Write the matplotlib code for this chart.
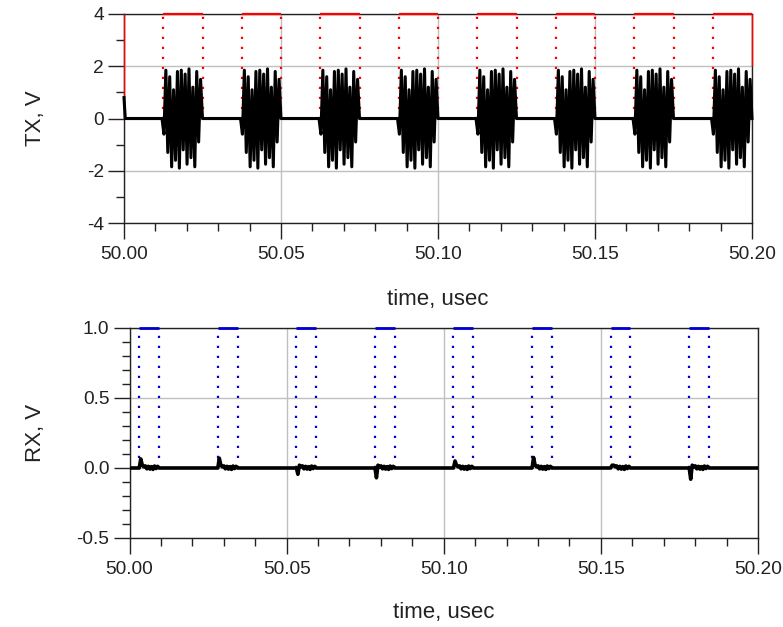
import numpy as np
import matplotlib.pyplot as plt
from matplotlib.ticker import MultipleLocator, FormatStrFormatter

plt.rcParams['font.family'] = ['Liberation Sans', 'DejaVu Sans']

# TX (top): red gate and black bursts, times in usec
red_rise = [50.0125, 50.0375, 50.0625, 50.0875, 50.1125, 50.1375, 50.1625, 50.1875]
red_fall = [50.025, 50.05, 50.075, 50.10, 50.125, 50.15, 50.175]
red_high_end = [50.025, 50.05, 50.075, 50.10, 50.125, 50.15, 50.175, 50.20]
red_edge_x = [50.00, 50.20]
red_edge_lo = [0.0, 2.0]
red_high = 4.0

burst_start = [50.0121, 50.0371, 50.0621, 50.0871, 50.1121, 50.1371, 50.1621, 50.1871]
burst_len = 0.0129
tx_burst = [0.0, -0.6, 1.85, -1.3, 1.6, -1.85, 1.1, -1.6, 1.8, -1.9, 1.85, -1.2,
            1.7, -1.75, 1.9, -1.5, 1.2, -1.85, 1.8, -0.9, 1.5, 0.0]
tx_start_x = [50.0, 50.0004]
tx_start_y = [0.8, 0.0]

# RX (bottom): blue gate and black response
blue_rise = [50.0031, 50.0281, 50.0531, 50.0781, 50.1031, 50.1281, 50.1531, 50.1781]
blue_fall = [50.0094, 50.0344, 50.0594, 50.0844, 50.1094, 50.1344, 50.1594, 50.1844]
blue_high = 1.0
rx_spike = [0.065, 0.07, -0.045, -0.07, 0.05, 0.075, 0.02, -0.08]
rx_ring = [0.02, 0.008, 0.015, -0.006, 0.012, -0.008, 0.01, -0.01, 0.014, -0.004, 0.012, 0.0]

tx_x = list(tx_start_x)
tx_y = list(tx_start_y)
for s in burst_start:
    tx_x += list(np.linspace(s, min(s + burst_len, 50.2), len(tx_burst)))
    tx_y += tx_burst
tx_x.append(50.2)
tx_y.append(tx_burst[-1])

rx_x = [50.0]
rx_y = [0.0]
for r, f, sp in zip(blue_rise, blue_fall, rx_spike):
    vals = [0.0, sp] + rx_ring
    rx_x += list(np.linspace(r, f, len(vals)))
    rx_y += vals
rx_x.append(50.2)
rx_y.append(0.0)

dot = (0, (1, 3.5))
ink = '#222222'


def style_axes(ax, ylim, ymaj, ymin, yfmt):
    ax.set_xlim(50.0, 50.2)
    ax.set_ylim(*ylim)
    ax.xaxis.set_major_locator(MultipleLocator(0.05))
    ax.xaxis.set_minor_locator(MultipleLocator(0.01))
    ax.xaxis.set_major_formatter(FormatStrFormatter('%.2f'))
    ax.yaxis.set_major_locator(MultipleLocator(ymaj))
    ax.yaxis.set_minor_locator(MultipleLocator(ymin))
    ax.yaxis.set_major_formatter(FormatStrFormatter(yfmt))
    ax.grid(True, which='major', color='#c0c0c0', lw=1.0)
    ax.set_axisbelow(True)
    ax.tick_params(which='major', length=11.5, width=1, color=ink, labelsize=13.8,
                   labelcolor=ink)
    ax.tick_params(axis='x', which='major', pad=5)
    ax.tick_params(axis='y', which='major', pad=3)
    ax.tick_params(which='minor', length=5.8, width=1, color=ink)
    for sp in ax.spines.values():
        sp.set_color(ink)
        sp.set_linewidth(1.0)
    ax.set_xlabel('time, usec', fontsize=16, color=ink)


fig = plt.figure(figsize=(7.83, 6.27), dpi=100)
ax1 = fig.add_axes([124 / 783, 1 - 223 / 627, 628 / 783, 209 / 627])
ax2 = fig.add_axes([129.5 / 783, 1 - 538 / 627, 628.5 / 783, 210 / 627])

style_axes(ax1, (-4, 4), 2, 1, '%d')
style_axes(ax2, (-0.5, 1.0), 0.5, 0.1, '%.1f')

# top panel
ax1.hlines([red_high] * len(red_rise), red_rise, red_high_end, colors='red',
           lw=1.6, zorder=3, clip_on=False)
ax1.vlines(red_rise + red_fall, 0, red_high, colors='red', lw=1.6,
           linestyles=[dot], zorder=3)
ax1.vlines(red_edge_x, red_edge_lo, red_high, colors='red', lw=1.0, zorder=3,
           clip_on=False)
ax1.plot(tx_x, tx_y, color='black', lw=2.2, zorder=4, clip_on=False)
ax1.set_ylabel('TX, V', fontsize=16, color=ink)
ax1.yaxis.set_label_coords(-0.124, 0.5)
ax1.xaxis.set_label_coords(0.5, -0.317)

# bottom panel
ax2.hlines([blue_high] * len(blue_rise), blue_rise, blue_fall, colors='#0000D0',
           lw=2.0, zorder=3, clip_on=False)
ax2.vlines(blue_rise + blue_fall, 0, blue_high, colors='#0000D0', lw=1.6,
           linestyles=[dot], zorder=3)
ax2.plot(rx_x, rx_y, color='black', lw=2.6, zorder=4)
ax2.set_ylabel('RX, V', fontsize=16, color=ink)
ax2.yaxis.set_label_coords(-0.133, 0.5)
ax2.xaxis.set_label_coords(0.5, -0.306)

fig.savefig('out.png', dpi=100)
